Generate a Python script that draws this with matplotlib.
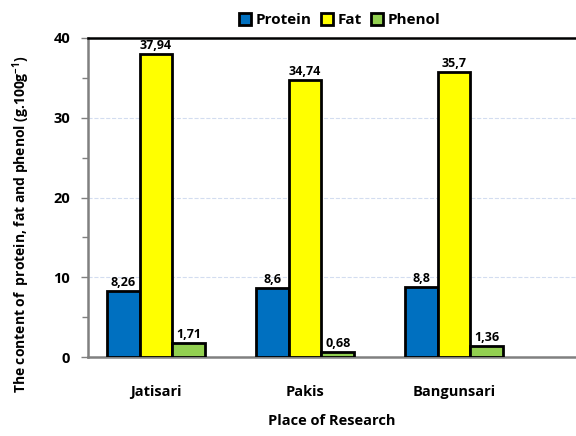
import matplotlib.pyplot as plt
import numpy as np

places = ['Jatisari', 'Pakis', 'Bangunsari']
protein = [8.26, 8.6, 8.8]
fat = [37.94, 34.74, 35.7]
phenol = [1.71, 0.68, 1.36]
protein_lbl = ['8,26', '8,6', '8,8']
fat_lbl = ['37,94', '34,74', '35,7']
phenol_lbl = ['1,71', '0,68', '1,36']

plt.rcParams['font.family'] = ['Open Sans', 'DejaVu Sans']
plt.rcParams['font.weight'] = 'bold'
plt.rcParams['mathtext.fontset'] = 'custom'
plt.rcParams['mathtext.bf'] = 'Open Sans:bold'
plt.rcParams['mathtext.rm'] = 'Open Sans:bold'

fig = plt.figure(figsize=(5.76, 4.36), dpi=100)
ax = fig.add_axes([0.153, 0.181, 0.847, 0.732])

x = np.arange(len(places))
w = 0.22
series = [(protein, protein_lbl, '#0070C0', 'Protein', -w),
          (fat, fat_lbl, '#FFFF00', 'Fat', 0),
          (phenol, phenol_lbl, '#92D050', 'Phenol', w)]
for vals, lbls, col, name, off in series:
    bars = ax.bar(x + off, vals, w, color=col, edgecolor='black', linewidth=2,
                  label=name, zorder=3)
    for b, t in zip(bars, lbls):
        ax.text(b.get_x() + b.get_width() / 2, b.get_height() + 0.25, t,
                ha='center', va='bottom', fontsize=9, fontweight='bold', zorder=4)

ax.set_xlim(-0.456, 2.82)
ax.set_ylim(0, 40)
ax.set_yticks([0, 10, 20, 30, 40])
ax.set_yticks([5, 15, 25, 35], minor=True)
ax.yaxis.grid(True, which='major', linestyle='--', color='#D3DDF0', linewidth=0.8, zorder=0)
ax.set_xticks(x)
ax.set_xticklabels(places, fontsize=10.5, fontweight='bold')
ax.tick_params(axis='x', length=0, pad=20)
ax.tick_params(axis='y', which='both', direction='out', color='#808080', width=1, labelsize=10.5)
ax.tick_params(axis='y', which='major', length=5, pad=8)
ax.tick_params(axis='y', which='minor', length=4)

ax.spines['right'].set_visible(False)
ax.spines['top'].set_color('black')
ax.spines['top'].set_linewidth(1.8)
for s in ['left', 'bottom']:
    ax.spines[s].set_color('#808080')
    ax.spines[s].set_linewidth(1.8)

ax.set_xlabel('Place of Research', fontsize=10.5, fontweight='bold', labelpad=11)
ax.set_ylabel('The content of  protein, fat and phenol (g.100g$^{-1}$)',
              fontsize=10, fontweight='bold')
ax.yaxis.set_label_coords(-0.115, 0.415)

ax.legend(loc='lower center', bbox_to_anchor=(0.516, 1.0), ncol=3, frameon=False,
          fontsize=11, handlelength=0.8, handleheight=0.8, handletextpad=0.3,
          columnspacing=0.6, borderaxespad=0.3)

fig.savefig('out.png', dpi=100)
